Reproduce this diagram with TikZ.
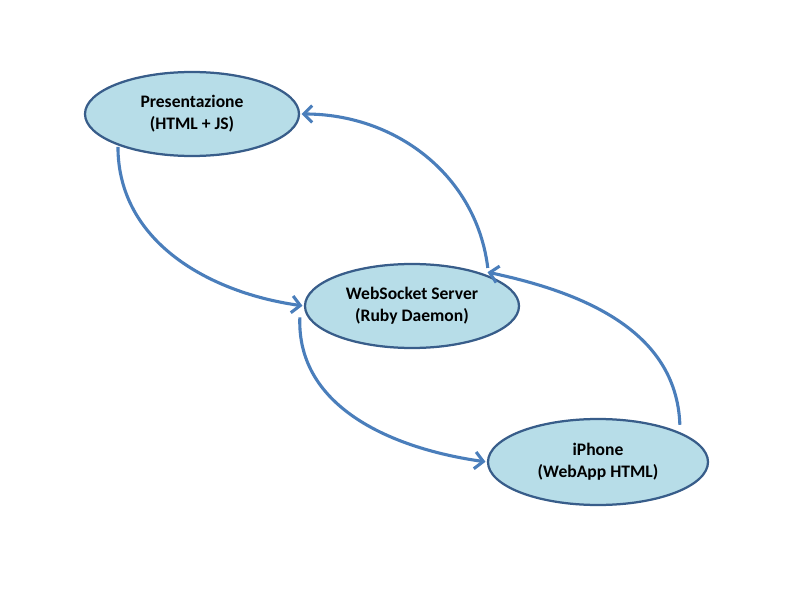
\documentclass[tikz,border=0pt]{standalone}
\usepackage{fontspec}
\setmainfont{Carlito}
\usepackage{tikz}
\usetikzlibrary{calc, shapes.geometric, arrows.meta}
\definecolor{shapefill}{HTML}{B7DDE8}
\definecolor{shapeline}{HTML}{385D8A}
\definecolor{arrowline}{HTML}{4A7EBB}

\begin{document}
\begin{tikzpicture}[component/.style={draw=shapeline, line width=1.6pt, fill=shapefill, ellipse,
           minimum width=5.35cm, minimum height=2.1cm, inner sep=0pt,
           align=center, font=\fontsize{12.5}{15.5}\selectfont\bfseries},
           connections/.style={-{Straight Barb[length=6pt,width=12pt]},draw=arrowline,line width=2.2pt,
              shorten <=1pt,shorten >=1pt},
        ]
        \useasboundingbox (0,0) rectangle (20,15);

        \node[draw] at (4.8,12.15) (presentazione) [component]  {Presentazione\\(HTML + JS)};
        \node[draw] at (10.3,7.35) (server) [component]  {WebSocket Server\\(Ruby Daemon)};
        \node[draw] at (14.95,3.45) (iphone) [component, minimum width=5.5cm, minimum height=2.15cm]  {iPhone\\(WebApp HTML)};

        \draw[connections] (presentazione.203) to[out=-90,in=172] (server.west) ;
        \draw[connections] ($(server.22)+(0,0.15)$) to[out=97,in=0] (presentazione.east) ;
        \draw[connections] ($(server.west)+(-0.1,-0.25)$) to[out=-92,in=172] (iphone.west) ;
        \draw[connections] ($(iphone.20)+(0,0.15)$) to[out=92,in=-12] ($(server.24)+(0.05,0.05)$) ;
     \end{tikzpicture}
\end{document}
